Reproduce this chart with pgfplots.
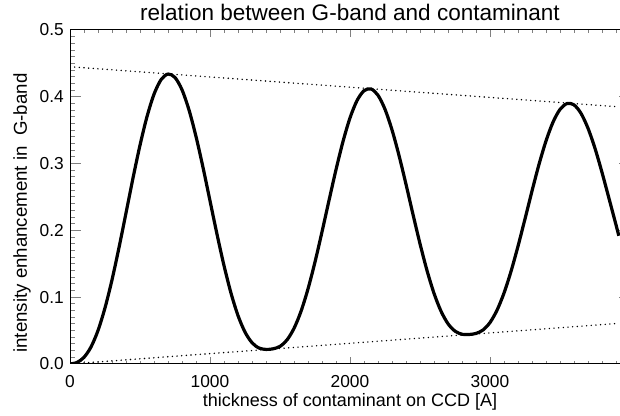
\documentclass[border=0pt]{standalone}
\usepackage{fontspec}
\setmainfont{Liberation Sans}
\usepackage{pgfplots}
\pgfplotsset{compat=1.18}

\begin{document}
\begin{tikzpicture}
\begin{axis}[
    scale only axis,
    width=420pt, height=250.5pt,
    xmin=0, xmax=4000,
    ymin=0, ymax=0.5,
    xtick={0,1000,2000,3000},
    minor xtick={0,100,...,4000},
    ytick={0,0.1,...,0.5},
    minor y tick num=9,
    tick align=inside,
    xtick style={/pgfplots/major tick length=5pt, /pgfplots/minor tick length=2.5pt, line width=0.75pt},
    ytick style={/pgfplots/major tick length=8.25pt, /pgfplots/minor tick length=4.1pt, line width=0.75pt},
    axis line style={line width=0.75pt},
    tick label style={font=\fontsize{13}{15}\selectfont, inner sep=0pt},
    /pgf/number format/assume math mode=true,
    scaled x ticks=false,
    xticklabel style={anchor=center, yshift=-13.5pt,
        /pgf/number format/fixed, /pgf/number format/1000 sep={}},
    yticklabel style={anchor=east, xshift=-4.5pt,
        /pgf/number format/fixed, /pgf/number format/fixed zerofill,
        /pgf/number format/precision=1},
    every axis title shift=0pt,
    title={relation between G-band and contaminant},
    title style={at={(axis description cs:0.5,1.028)}, anchor=base, inner sep=0pt,
        font=\fontsize{16.9}{20}\selectfont},
    xlabel={thickness of contaminant on CCD [A]},
    xlabel style={at={(axis description cs:0.5,-0.1287)}, anchor=base, inner sep=0pt,
        font=\fontsize{13.5}{16}\selectfont},
    ylabel={intensity enhancement in\ \ G-band},
    ylabel style={at={(axis description cs:-0.0768,0.452)}, anchor=base, inner sep=0pt,
        font=\fontsize{14}{16}\selectfont},
]
% envelope lines
\addplot[black, line width=1.2pt, line cap=round, dash pattern=on 0pt off 3.5pt]
    coordinates {(0,0.445) (3920,0.385)};
\addplot[black, line width=1.2pt, line cap=round, dash pattern=on 0pt off 3.5pt]
    coordinates {(0,0.0) (3920,0.0608)};
% G-band enhancement
\addplot[black, line width=2.4pt, line join=round, smooth, tension=0.5] coordinates {
(0,0.0000) (50,0.0023) (100,0.0100) (150,0.0255) (200,0.0501)
(250,0.0840) (300,0.1259) (350,0.1743) (400,0.2260) (450,0.2784)
(500,0.3275) (550,0.3703) (600,0.4038) (650,0.4255) (700,0.4341)
(750,0.4289) (800,0.4105) (850,0.3803) (900,0.3406) (950,0.2943)
(1000,0.2443) (1050,0.1943) (1100,0.1473) (1150,0.1061) (1200,0.0725)
(1250,0.0478) (1300,0.0319) (1350,0.0239) (1400,0.0218) (1450,0.0227)
(1500,0.0264) (1550,0.0360) (1600,0.0533) (1650,0.0788) (1700,0.1124)
(1750,0.1527) (1800,0.1978) (1850,0.2448) (1900,0.2909) (1950,0.3331)
(2000,0.3684) (2050,0.3943) (2100,0.4091) (2150,0.4118) (2200,0.4023)
(2250,0.3813) (2300,0.3505) (2350,0.3122) (2400,0.2690) (2450,0.2239)
(2500,0.1801) (2550,0.1400) (2600,0.1058) (2650,0.0791) (2700,0.0603)
(2750,0.0492) (2800,0.0445) (2850,0.0442) (2900,0.0457) (2950,0.0509)
(3000,0.0621) (3050,0.0805) (3100,0.1061) (3150,0.1386) (3200,0.1763)
(3250,0.2172) (3300,0.2590) (3350,0.2988) (3400,0.3339) (3450,0.3620)
(3500,0.3811) (3550,0.3899) (3600,0.3879) (3650,0.3752) (3700,0.3529)
(3750,0.3228) (3800,0.2868) (3850,0.2478) (3900,0.2083) (3920,0.1920)
};
\end{axis}
\pgfresetboundingbox
\path ([xshift=-52.5pt,yshift=-39pt]current axis.south west)
    rectangle ([xshift=-7.5pt,yshift=22.5pt]current axis.north east);
\end{tikzpicture}
\end{document}
